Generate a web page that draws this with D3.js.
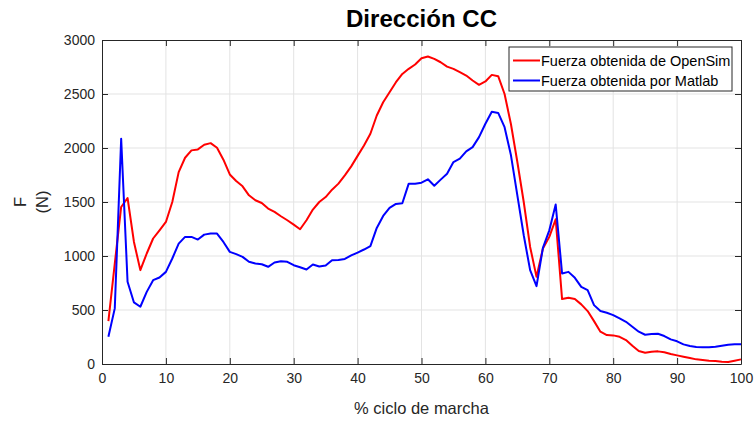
<!DOCTYPE html>
<html>
<head>
<meta charset="utf-8">
<script src="https://cdn.jsdelivr.net/npm/d3@7"></script>
<style>
  html, body { margin: 0; padding: 0; background: #fff; }
  svg { display: block; font-family: "Liberation Sans", Arial, sans-serif; }
</style>
</head>
<body>
<svg id="chart" width="755" height="421"></svg>
<script>
// Gait cycle percentage (1..100)
const cyclePct = d3.range(1, 101);

// Force from OpenSim (N)
const forceOpenSim = [
  397, 930, 1454, 1537, 1130, 869, 1023, 1162, 1238, 1315,
  1500, 1777, 1910, 1978, 1987, 2030, 2045, 2002, 1892, 1755,
  1694, 1645, 1562, 1516, 1491, 1439, 1408, 1368, 1331, 1291,
  1248, 1331, 1430, 1500, 1546, 1614, 1670, 1747, 1830, 1927,
  2024, 2132, 2301, 2424, 2517, 2609, 2686, 2733, 2773, 2831,
  2847, 2825, 2794, 2754, 2733, 2702, 2671, 2625, 2585, 2616,
  2677, 2665, 2500, 2220, 1870, 1500, 1084, 807, 1069, 1177,
  1340, 601, 613, 601, 552, 490, 397, 299, 268, 265,
  252, 222, 169, 120, 104, 114, 117, 108, 92, 80,
  67, 55, 43, 37, 31, 28, 21, 18, 31, 43
];

// Force computed in Matlab (N)
const forceMatlab = [
  252, 515, 2086, 761, 570, 530, 668, 776, 801, 853,
  977, 1115, 1177, 1177, 1152, 1198, 1208, 1208, 1130, 1038,
  1017, 992, 946, 931, 924, 900, 940, 952, 946, 915,
  896, 875, 921, 903, 912, 961, 964, 973, 1005, 1032,
  1060, 1091, 1260, 1371, 1445, 1482, 1488, 1670, 1670, 1679,
  1710, 1651, 1707, 1762, 1870, 1901, 1969, 2008, 2101, 2224,
  2335, 2325, 2193, 1932, 1562, 1192, 869, 721, 1075, 1238,
  1476, 838, 853, 798, 714, 684, 545, 490, 474, 453,
  422, 391, 345, 299, 271, 277, 280, 259, 228, 210,
  182, 166, 157, 154, 154, 160, 169, 178, 182, 182
];

const xTicks = [0, 10, 20, 30, 40, 50, 60, 70, 80, 90, 100];
const yTicks = [0, 500, 1000, 1500, 2000, 2500, 3000];

const seriesNames = ["Fuerza obtenida de OpenSim", "Fuerza obtenida por Matlab"];
const seriesColors = ["#ff0000", "#0000ff"];

const svg = d3.select("#chart");
const margin = { left: 102, right: 14, top: 40, bottom: 57 };
const W = 755, H = 421;
const x = d3.scaleLinear().domain([0, 100]).range([margin.left, W - margin.right]);
const y = d3.scaleLinear().domain([0, 3000]).range([H - margin.bottom, margin.top]);

const axisColor = "#262626";
const gridColor = "#e3e3e3";
const x0 = x.range()[0], x1 = x.range()[1];
const y0 = y.range()[0], y1 = y.range()[1];

// grid
const grid = svg.append("g");
grid.selectAll(".gx").data(xTicks.slice(1, -1)).join("line")
  .attr("x1", d => x(d)).attr("x2", d => x(d))
  .attr("y1", y1).attr("y2", y0)
  .attr("stroke", gridColor).attr("stroke-width", 1);
grid.selectAll(".gy").data(yTicks.slice(1, -1)).join("line")
  .attr("x1", x0).attr("x2", x1)
  .attr("y1", d => y(d)).attr("y2", d => y(d))
  .attr("stroke", gridColor).attr("stroke-width", 1);

// data lines
const lineGen = vals => d3.line()
  .x((d, i) => x(cyclePct[i]))
  .y(d => y(d))(vals);

svg.append("path").attr("d", lineGen(forceOpenSim))
  .attr("fill", "none").attr("stroke", seriesColors[0]).attr("stroke-width", 2)
  .attr("stroke-linejoin", "round");
svg.append("path").attr("d", lineGen(forceMatlab))
  .attr("fill", "none").attr("stroke", seriesColors[1]).attr("stroke-width", 2)
  .attr("stroke-linejoin", "round");

// axes (ticks pointing inward, box on all sides)
const tickLen = 6;
const styleAxis = g => {
  g.select(".domain").attr("stroke", axisColor);
  g.selectAll(".tick line").attr("stroke", axisColor);
  g.selectAll(".tick text").attr("fill", "#262626")
    .style("font-size", "14px").style("font-family", "Liberation Sans, Arial, sans-serif");
};

svg.append("g").attr("transform", `translate(0,${y0})`)
  .call(d3.axisBottom(x).tickValues(xTicks).tickFormat(d3.format("d"))
    .tickSizeInner(-tickLen).tickSizeOuter(0).tickPadding(9))
  .call(styleAxis);
svg.append("g").attr("transform", `translate(0,${y1})`)
  .call(d3.axisTop(x).tickValues(xTicks).tickSizeInner(-tickLen).tickSizeOuter(0).tickFormat(""))
  .call(styleAxis);
svg.append("g").attr("transform", `translate(${x0},0)`)
  .call(d3.axisLeft(y).tickValues(yTicks).tickFormat(d3.format("d"))
    .tickSizeInner(-tickLen).tickSizeOuter(0).tickPadding(7))
  .call(styleAxis);
svg.append("g").attr("transform", `translate(${x1},0)`)
  .call(d3.axisRight(y).tickValues(yTicks).tickSizeInner(-tickLen).tickSizeOuter(0).tickFormat(""))
  .call(styleAxis);

// title
svg.append("text")
  .attr("x", (x0 + x1) / 2).attr("y", 27)
  .attr("text-anchor", "middle")
  .attr("textLength", 151).attr("lengthAdjust", "spacingAndGlyphs")
  .style("font-size", "24px").style("font-weight", "bold").attr("fill", "#000")
  .text("Dirección CC");

// x label
svg.append("text")
  .attr("x", (x0 + x1) / 2).attr("y", 414)
  .attr("text-anchor", "middle")
  .style("font-size", "16.5px").attr("fill", "#262626")
  .text("% ciclo de marcha");

// y label (two lines)
const yl = svg.append("text")
  .attr("transform", `translate(26,${(y0 + y1) / 2}) rotate(-90)`)
  .attr("text-anchor", "middle")
  .style("font-size", "16.5px").attr("fill", "#262626");
yl.append("tspan").attr("x", 0).attr("dy", 0).text("F");
yl.append("tspan").attr("x", 0).attr("dy", 22).text("(N)");

// legend
const lg = svg.append("g").attr("transform", "translate(509,47)");
lg.append("rect").attr("width", 223).attr("height", 44)
  .attr("fill", "#fff").attr("stroke", axisColor).attr("stroke-width", 1);
seriesNames.forEach((name, i) => {
  const cy = 13.5 + i * 20;
  lg.append("line").attr("x1", 4).attr("x2", 31).attr("y1", cy).attr("y2", cy)
    .attr("stroke", seriesColors[i]).attr("stroke-width", 2);
  lg.append("text").attr("x", 32).attr("y", cy + 5)
    .style("font-size", "14.5px").attr("fill", "#000").text(name);
});
</script>
</body>
</html>
